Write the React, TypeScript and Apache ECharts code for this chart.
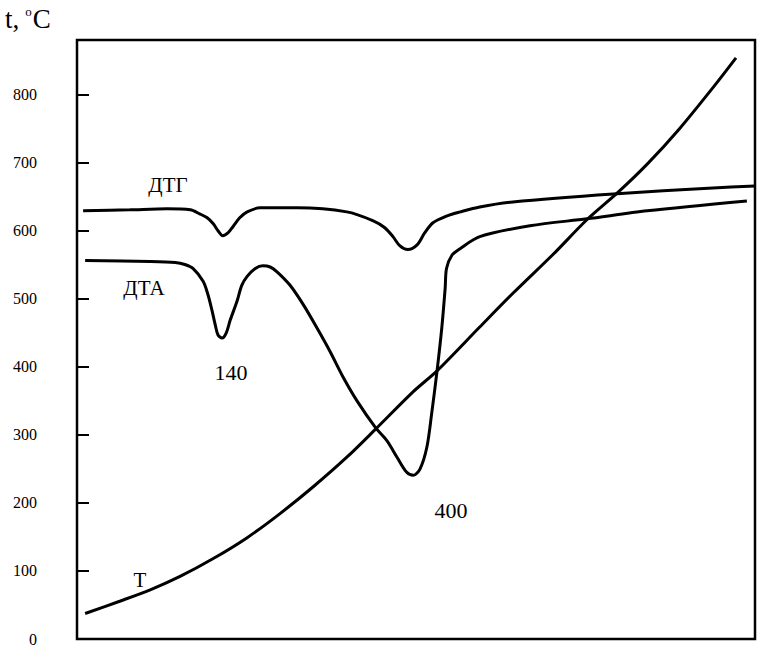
import React, { useEffect, useRef } from "react";
import * as echarts from "echarts";

// Y axis: temperature, °C
const yTicks = [0, 100, 200, 300, 400, 500, 600, 700, 800];

// T curve (x: arbitrary time units, y: °C)
const tX = [1.2, 6.3, 10.8, 15.2, 20.1, 25.1, 29.9, 34.8, 39.8, 44.0, 49.6, 53.1, 59.4, 64.3, 70.2, 75.2, 79.7, 84.1, 88.9, 93.8, 97.2];
const tY = [37.5, 55.5, 72.2, 91.9, 118.2, 148.9, 183.9, 223.3, 267.1, 307.9, 363.4, 394.0, 458.3, 507.9, 564.8, 615.9, 655.3, 697.6, 750.1, 810.0, 853.7];

// ДТГ curve
const dtgX = [0.9, 7.8, 13.3, 16.7, 18.1, 19.2, 20.1, 20.8, 21.5, 22.3, 23.0, 24.0, 25.1, 27.0, 32.5, 39.8, 43.7, 45.4, 46.6, 47.6, 48.8, 50.2, 51.3, 52.5, 54.6, 56.5, 59.4, 64.3, 79.1, 93.8, 100];
const dtgY = [629.0, 630.5, 632.0, 630.5, 624.6, 618.8, 610.0, 599.8, 592.5, 596.9, 605.7, 618.8, 627.5, 633.4, 633.4, 627.5, 614.4, 604.2, 591.1, 577.9, 572.1, 579.4, 596.9, 611.5, 621.7, 627.5, 634.8, 642.1, 653.8, 662.6, 665.5];

// ДТА curve
const dtaX = [1.2, 10.8, 14.5, 15.9, 17.1, 18.6, 19.3, 19.9, 20.4, 20.8, 21.4, 22.0, 22.6, 23.6, 24.3, 25.1, 26.3, 27.4, 28.5, 29.5, 31.4, 33.4, 35.4, 37.3, 39.3, 41.3, 44.0, 45.7, 47.2, 48.6, 49.6, 50.6, 51.6, 52.3, 53.1, 53.8, 54.3, 54.5, 55.3, 56.5, 59.4, 66.8, 75.2, 84.1, 98.8];
const dtaY = [556.0, 554.6, 553.1, 550.2, 544.4, 525.4, 506.4, 483.1, 461.2, 446.6, 442.2, 449.5, 468.5, 496.2, 519.5, 532.7, 544.4, 548.3, 546.5, 539.5, 520.0, 490.8, 456.8, 422.8, 383.8, 349.8, 310.9, 291.4, 267.1, 245.2, 240.4, 250.0, 281.7, 330.3, 393.6, 456.8, 515.2, 544.4, 563.8, 573.5, 591.1, 607.1, 617.3, 629.0, 643.6];

const zip = (xs: number[], ys: number[]) => xs.map((x, i) => [x, ys[i]]);

const SERIF = "Liberation Serif";

export default function App() {
  const ref = useRef<HTMLDivElement>(null);
  useEffect(() => {
    if (!ref.current) return;
    const chart = echarts.init(ref.current, undefined, { renderer: "svg" });
    const lineStyle = { color: "#000", width: 3 };
    const mkSeries = (name: string, xs: number[], ys: number[]) => ({
      name,
      type: "line",
      data: zip(xs, ys),
      showSymbol: false,
      smooth: 0.3,
      lineStyle,
      silent: true,
    });
    const txt = (text: string, x: number, y: number, size: number) => ({
      type: "text",
      x,
      y,
      style: {
        text,
        fontFamily: SERIF,
        fontSize: size,
        fontWeight: "normal",
        fill: "#000",
        textAlign: "center",
        textVerticalAlign: "middle",
      },
    });
    chart.setOption({
      animation: false,
      backgroundColor: "#fff",
      title: {
        left: 0,
        top: 0,
        text: "{a|t,}{b|o}{a|C}",
        textStyle: {
          fontFamily: SERIF,
          fontWeight: "normal",
          rich: {
            a: { fontFamily: SERIF, fontWeight: "normal", fontSize: 27, color: "#000" },
            b: { fontFamily: SERIF, fontWeight: "normal", fontSize: 13, color: "#000", verticalAlign: "top", padding: [0, 1, 0, 6] },
          },
        },
      },
      grid: {
        left: 77,
        right: 5,
        top: 40,
        bottom: 4,
        show: true,
        borderColor: "#000",
        borderWidth: 2.5,
        backgroundColor: "transparent",
      },
      xAxis: {
        type: "value",
        min: 0,
        max: 100,
        axisLine: { show: false },
        axisTick: { show: false },
        axisLabel: { show: false },
        splitLine: { show: false },
      },
      yAxis: {
        type: "value",
        min: 0,
        max: 880,
        interval: 100,
        axisLine: { show: false },
        splitLine: { show: false },
        axisTick: {
          show: true,
          inside: true,
          length: 12,
          lineStyle: { color: "#000", width: 2 },
        },
        axisLabel: {
          margin: 40,
          color: "#000",
          fontFamily: SERIF,
          fontSize: 16,
          formatter: (v: number) => (yTicks.includes(v) ? String(v) : ""),
        },
      },
      graphic: [
        txt("ДТГ", 168, 185, 21),
        txt("ДТА", 144, 288, 21),
        txt("140", 231, 372, 22),
        txt("400", 451, 510, 22),
        txt("T", 140, 580, 21),
      ],
      series: [
        mkSeries("T", tX, tY),
        mkSeries("ДТГ", dtgX, dtgY),
        mkSeries("ДТА", dtaX, dtaY),
      ],
    });
    return () => chart.dispose();
  }, []);
  return (
    <div
      ref={ref}
      style={{ position: "absolute", left: 0, top: 0, width: 760, height: 647, background: "#fff" }}
    />
  );
}
